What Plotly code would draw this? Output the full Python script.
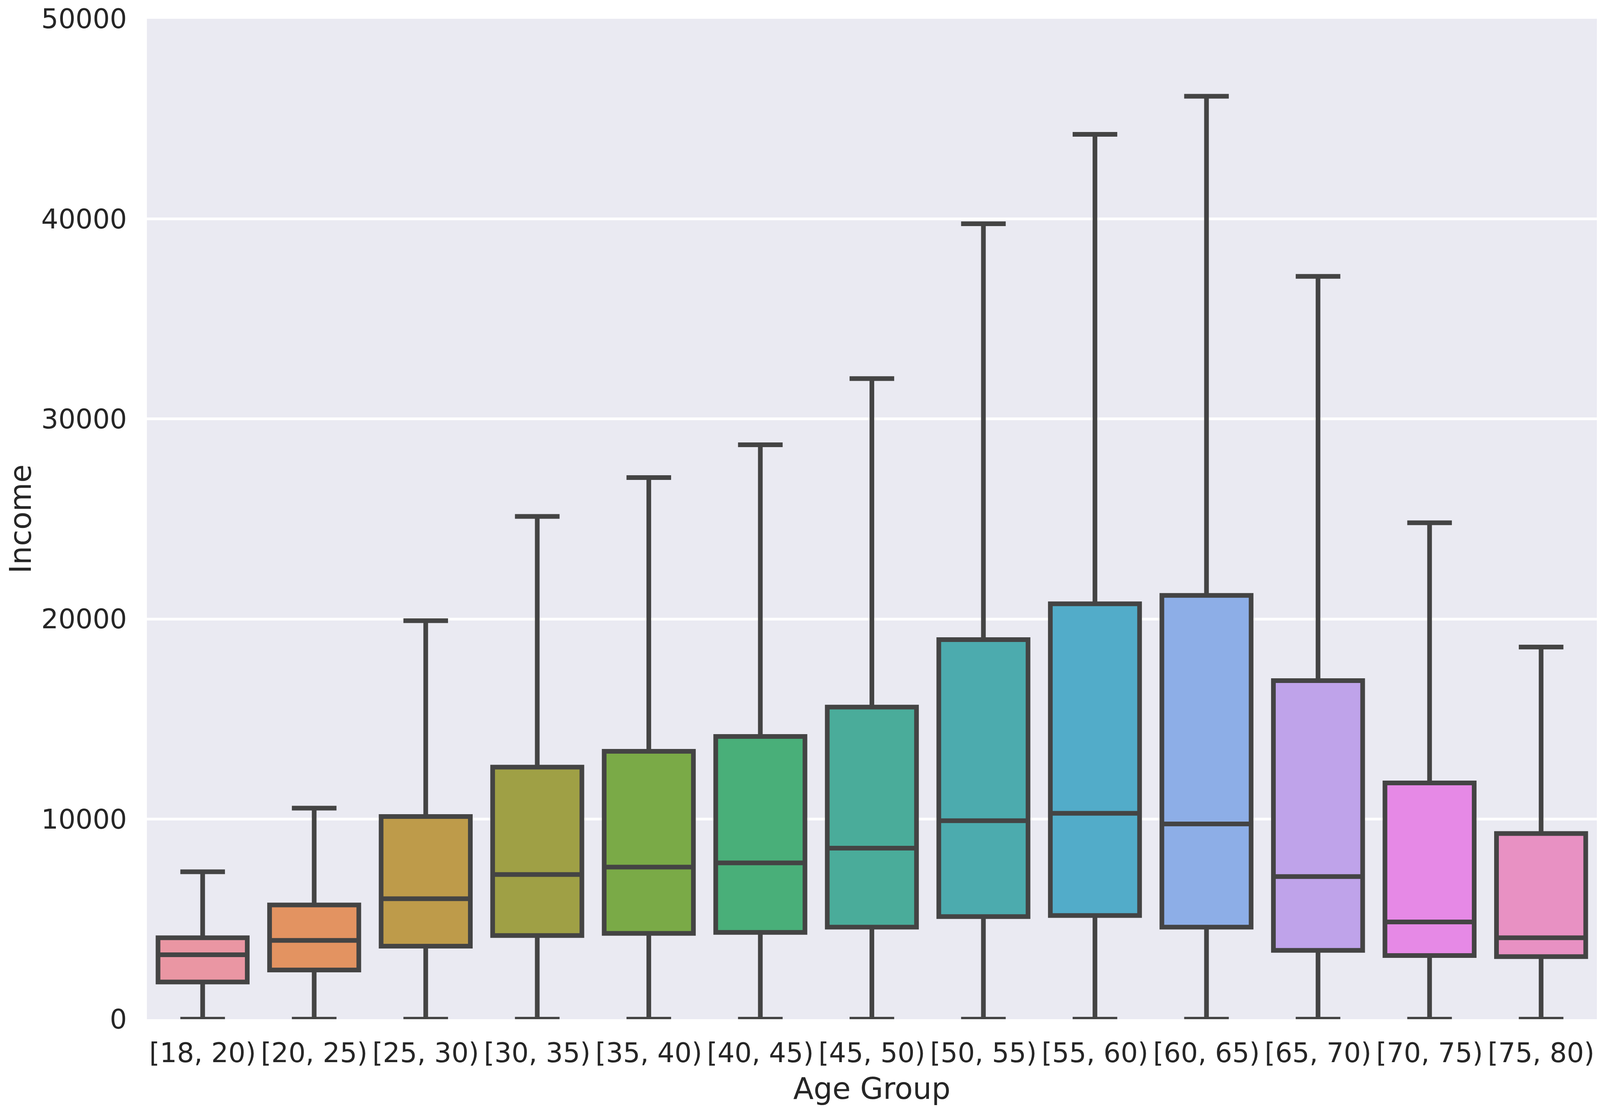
import math
import colorsys
import plotly.graph_objects as go

# ---------------- data ----------------
age_groups = ["[18, 20)", "[20, 25)", "[25, 30)", "[30, 35)", "[35, 40)", "[40, 45)",
              "[45, 50)", "[50, 55)", "[55, 60)", "[60, 65)", "[65, 70)", "[70, 75)", "[75, 80)"]
lower_whisker = [0, 0, 0, 0, 0, 0, 0, 0, 0, 0, 0, 0, 0]
q1 = [1860, 2460, 3650, 4180, 4290, 4340, 4600, 5130, 5180, 4600, 3440, 3180, 3130]
median = [3220, 3940, 6020, 7230, 7600, 7810, 8550, 9920, 10290, 9760, 7130, 4860, 4070]
q3 = [4070, 5710, 10130, 12600, 13390, 14130, 15600, 18970, 20760, 21180, 16920, 11810, 9280]
upper_whisker = [7370, 10550, 19920, 25130, 27070, 28710, 32020, 39760, 44230, 46130, 37130, 24810, 18600]
y_ticks = [0, 10000, 20000, 30000, 40000, 50000]


# ---------------- seaborn-like husl palette (style only) ----------------
_m = [[3.2406, -1.5372, -0.4986], [-0.9689, 1.8758, 0.0415], [0.0557, -0.2040, 1.0570]]
_refU, _refV, _kappa, _eps = 0.19784, 0.46834, 903.2962962, 0.0088564516


def _max_chroma(L, H):
    hrad = math.radians(H)
    sinH, cosH = math.sin(hrad), math.cos(hrad)
    sub1 = (L + 16) ** 3 / 1560896.0
    sub2 = sub1 if sub1 > _eps else L / _kappa
    result = float("inf")
    for m1, m2, m3 in _m:
        top = (0.99915 * m1 + 1.05122 * m2 + 1.14460 * m3) * sub2
        rbottom = 0.86330 * m3 - 0.17266 * m2
        lbottom = 0.12949 * m3 - 0.38848 * m1
        bottom = (rbottom * sinH + lbottom * cosH) * sub2
        for t in (0.0, 1.0):
            C = L * (top - 1.05122 * t) / (bottom + 0.17266 * sinH * t)
            if 0 < C < result:
                result = C
    return result


def _from_linear(c):
    return 12.92 * c if c <= 0.0031308 else 1.055 * c ** (1 / 2.4) - 0.055


def husl_to_rgb(h, s, l):
    C = _max_chroma(l, h) / 100.0 * s
    hrad = math.radians(h)
    U, V = math.cos(hrad) * C, math.sin(hrad) * C
    varY = ((l + 16) / 116.0) ** 3 if l > 8 else l / _kappa
    varU = U / (13 * l) + _refU
    varV = V / (13 * l) + _refV
    Y = varY
    X = 0 - (9 * Y * varU) / ((varU - 4) * varV - varU * varV)
    Z = (9 * Y - 15 * varV * Y - varV * X) / (3 * varV)
    rgb = [_from_linear(r[0] * X + r[1] * Y + r[2] * Z) for r in _m]
    return [min(max(c, 0.0), 1.0) for c in rgb]


def box_colors(n, h=0.01, s=0.9, l=0.7, sat=0.75):
    out = []
    for i in range(n):
        hue = ((i / n) + h) % 1 * 359
        r, g, b = husl_to_rgb(hue, s * 99, l * 99)
        hh, ll, ss = colorsys.rgb_to_hls(r, g, b)
        r, g, b = colorsys.hls_to_rgb(hh, ll, ss * sat)
        out.append("rgb(%d,%d,%d)" % (round(r * 255), round(g * 255), round(b * 255)))
    return out


colors = box_colors(len(age_groups))
line_color = "#444444"
text_color = "#262626"
font_family = "DejaVu Sans"

fig = go.Figure()
for i, g in enumerate(age_groups):
    fig.add_trace(go.Box(
        x=[g],
        q1=[q1[i]], median=[median[i]], q3=[q3[i]],
        lowerfence=[lower_whisker[i]], upperfence=[upper_whisker[i]],
        fillcolor=colors[i],
        line=dict(color=line_color, width=12),
        whiskerwidth=0.5,
        width=0.8,
        boxpoints=False,
        showlegend=False,
        name=g,
        hoverinfo="skip",
    ))

fig.update_layout(
    width=4080, height=2824,
    margin=dict(l=358, r=0, t=27, b=220),
    paper_bgcolor="white",
    plot_bgcolor="#EAEAF2",
    boxmode="overlay",
    font=dict(family=font_family, color=text_color, size=69),
    showlegend=False,
)
fig.update_xaxes(
    type="category",
    categoryorder="array", categoryarray=age_groups,
    range=[-0.5, len(age_groups) - 0.5],
    showgrid=False, zeroline=False, showline=False,
    ticks="", ticklabelstandoff=40,
    tickfont=dict(size=69, family=font_family, color=text_color),
    title=dict(text="Age Group", font=dict(size=76, family=font_family, color=text_color), standoff=43),
)
fig.update_yaxes(
    range=[0, 50005],
    tickvals=y_ticks, ticktext=[str(v) for v in y_ticks],
    showgrid=True, gridcolor="white", gridwidth=7,
    zeroline=False, showline=False,
    ticks="", ticklabelstandoff=50, ticklabeloverflow="allow",
    tickfont=dict(size=69, family=font_family, color=text_color),
    title=dict(text="Income", font=dict(size=76, family=font_family, color=text_color), standoff=44),
)

fig.write_html("out.html")
